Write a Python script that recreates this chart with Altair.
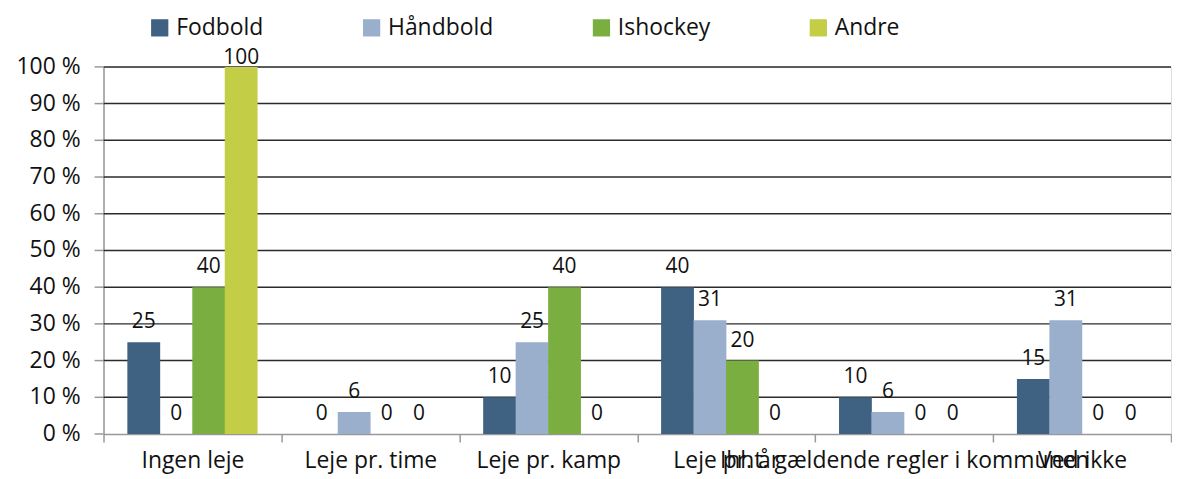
import altair as alt
import pandas as pd

categories = ["Ingen leje", "Leje pr. time", "Leje pr. kamp", "Leje pr. år",
              "Ihht. gældende regler i kommunen", "Ved ikke"]
series = ["Fodbold", "Håndbold", "Ishockey", "Andre"]
fodbold = [25, 0, 10, 40, 10, 15]
haandbold = [0, 6, 25, 31, 6, 31]
ishockey = [40, 0, 40, 20, 0, 0]
andre = [100, 0, 0, 0, 0, 0]
y_ticks = [0, 10, 20, 30, 40, 50, 60, 70, 80, 90, 100]
colors = ["#3F6182", "#99AFCB", "#7BAE41", "#C3CD45"]

W, H = 1073, 369
FONT = "Open Sans"

rows = []
for s, vals in zip(series, [fodbold, haandbold, ishockey, andre]):
    for c, v in zip(categories, vals):
        rows.append({"kategori": c, "sport": s, "value": v})
df = pd.DataFrame(rows)
ticks_df = pd.DataFrame({"value": y_ticks, "label": [f"{v} %" for v in y_ticks]})
grid_df = ticks_df[ticks_df["value"] > 0]

x = alt.X("kategori:N", sort=categories, title=None,
          scale=alt.Scale(paddingInner=0, paddingOuter=0),
          axis=alt.Axis(labelAngle=0, labelFontSize=23, labelColor="#111111",
                        labelFont=FONT, labelLimit=0, labelOverlap=False,
                        labelPadding=8, domainColor="#999999", domainWidth=1.5,
                        tickColor="#999999", tickWidth=1.5, tickSize=8,
                        tickBand="extent"))
xoff = alt.XOffset("sport:N", sort=series,
                   scale=alt.Scale(paddingOuter=0.74, paddingInner=0))
y = alt.Y("value:Q", title=None,
          scale=alt.Scale(domain=[0, 100], nice=False),
          axis=alt.Axis(labels=False, ticks=False, grid=False,
                        domainColor="#999999", domainWidth=1.5))

color = alt.Color("sport:N", sort=series,
                  scale=alt.Scale(domain=series, range=colors),
                  legend=alt.Legend(title=None, orient="none", direction="horizontal",
                                    legendX=45, legendY=-51,
                                    symbolType="square", symbolSize=300,
                                    symbolStrokeWidth=0,
                                    labelFontSize=23, labelFont=FONT,
                                    labelColor="#111111", columnPadding=97,
                                    labelOffset=5))

grid = alt.Chart(grid_df).mark_rule(color="#2b2b2b", strokeWidth=1.5).encode(
    y=y, x=alt.value(0), x2=alt.value(W))

yticks = alt.Chart(ticks_df).mark_rule(color="#999999", strokeWidth=1.5).encode(
    y=y, x=alt.value(-9), x2=alt.value(0))

ylabels = alt.Chart(ticks_df).mark_text(align="right", baseline="middle",
                                        fontSize=23, font=FONT,
                                        color="#111111").encode(
    y=y, x=alt.value(-23), text="label:N")

bars = alt.Chart(df).mark_bar(size=33).encode(x=x, xOffset=xoff, y=y, color=color)

# data labels sit above the bar, but are kept inside the plot area (as Excel does)
labels = alt.Chart(df).transform_calculate(
    label_y="min(datum.value, 97)"
).mark_text(baseline="bottom", dy=-10, fontSize=21,
            font=FONT, color="#111111").encode(
    x=x, xOffset=xoff,
    y=alt.Y("label_y:Q", scale=alt.Scale(domain=[0, 100], nice=False),
            axis=alt.Axis(labels=False, ticks=False, grid=False,
                          domainColor="#999999", domainWidth=1.5), title=None),
    text=alt.Text("value:Q"))

chart = alt.layer(grid, yticks, ylabels, bars, labels).properties(
    width=W, height=H,
    padding={"left": 8, "top": 7, "right": 0, "bottom": 0}
).configure_view(stroke=None).configure(font=FONT)

chart.save("out.html", embed_options={"renderer": "svg", "actions": False})
